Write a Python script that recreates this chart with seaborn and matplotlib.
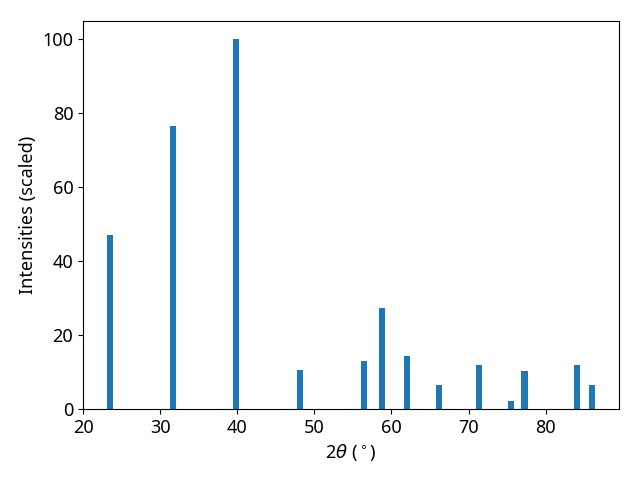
import numpy as np
import pandas as pd
import matplotlib
matplotlib.use("Agg")
import matplotlib.pyplot as plt
import seaborn as sns

two_theta = [23.45, 31.65, 39.8, 48.15, 56.45, 58.8, 62.05, 66.2, 71.3, 75.45, 77.25, 84.1, 85.95]
intensity = [47.2, 76.5, 100.0, 10.6, 13.0, 27.4, 14.4, 6.5, 12.0, 2.2, 10.3, 12.0, 6.5]

plt.rcParams['font.family'] = ['Noto Sans', 'DejaVu Sans']
plt.rcParams['font.size'] = 13

df = pd.DataFrame({"two_theta": two_theta, "intensity": intensity})

fig, ax = plt.subplots(figsize=(6.4, 4.8), dpi=100)
min_gap = np.min(np.diff(np.sort(np.array(two_theta))))
sns.barplot(data=df, x="two_theta", y="intensity", native_scale=True,
            width=0.8 / min_gap, color="#1f77b4", saturation=1, ax=ax,
            linewidth=0, errorbar=None)
ax.set_xlim(left=20, right=89.5)
ax.set_xlabel(r"2$\theta$ ($^\circ$)")
ax.set_ylabel("Intensities (scaled)")
fig.subplots_adjust(left=83/640, right=619/640, top=1-21/480, bottom=1-409/480)
fig.savefig("out.png", dpi=100)
